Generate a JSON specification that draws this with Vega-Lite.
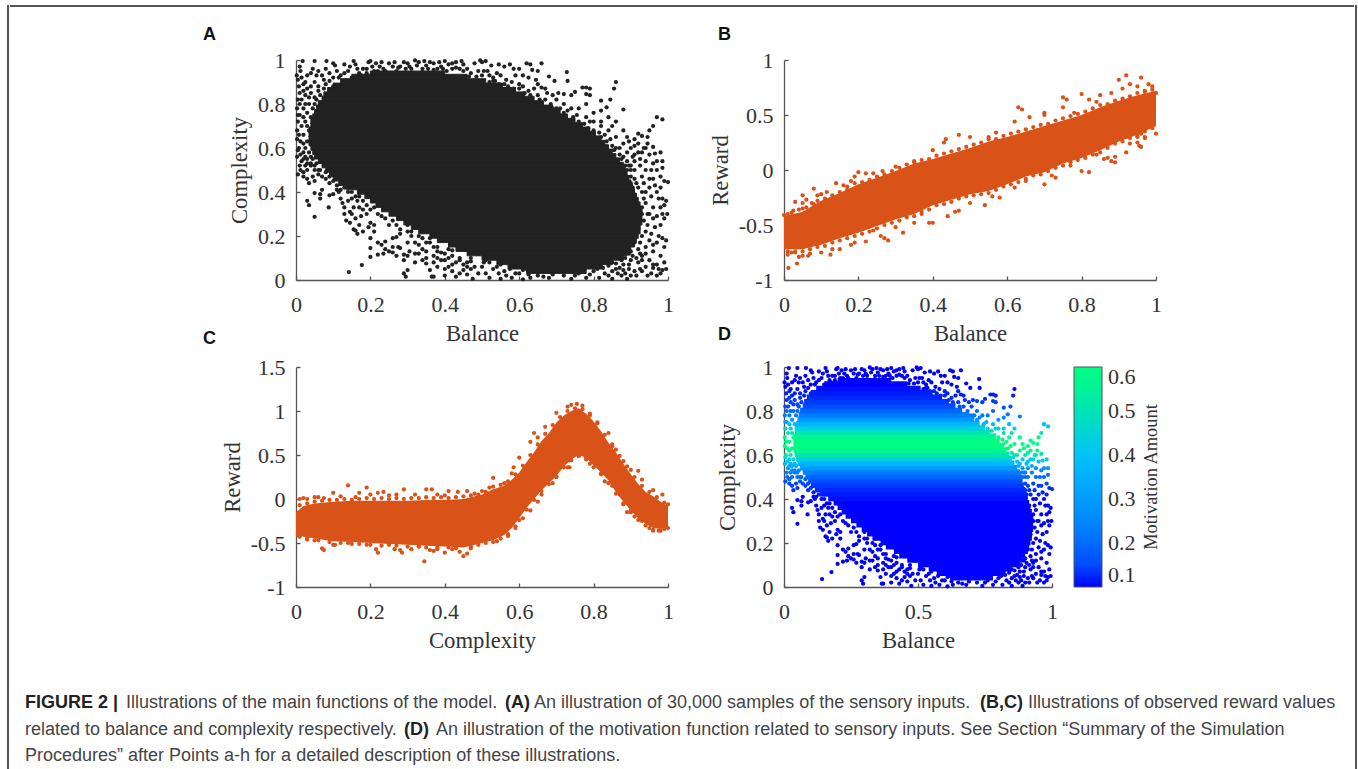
{
"$schema":"https://vega.github.io/schema/vega-lite/v6.json",
"padding":{"left":7,"top":4,"right":0,"bottom":0},
"background":"white",
"config":{"view":{"stroke":null},
 "axis":{"grid":false,"domainColor":"#555","tickColor":"#555","domainWidth":1.3,"tickWidth":1.3,"tickSize":-4,"labelFont":"Liberation Serif","titleFont":"Liberation Serif","labelFontSize":22,"titleFontSize":22.7,"labelColor":"#333","titleColor":"#333","titleFontWeight":"normal","labelOverlap":false,"labelBound":false,"labelFlush":false},
 "axisX":{"labelPadding":18,"titlePadding":7},
 "axisY":{"labelPadding":15,"titlePadding":6},
 "title":{"font":"Liberation Sans","fontSize":18,"fontWeight":"bold","color":"#111","anchor":"start","frame":"group"}},
"datasets":{
"frameLine":[{"a":0,"s":0,"e":1}],
"colorNote":[{"b":1.369,"c":0.5,"txt":"Motivation Amount"}],
"inputs":[
{"b":0.018,"c":0.995,"m":0.1},{"b":0.05,"c":0.995,"m":0.1},{"b":0.082,"c":0.995,"m":0.1},{"b":0.01,"c":0.97,"m":0.1},{"b":0.1,"c":0.985,"m":0.1},{"b":0.105,"c":0.975,"m":0.1},{"b":0.13,"c":0.98,"m":0.1},{"b":0.145,"c":0.97,"m":0.1},{"b":0.155,"c":0.995,"m":0.1},{"b":0.16,"c":0.98,"m":0.1},{"b":0.19,"c":0.96,"m":0.1},{"b":0.195,"c":0.99,"m":0.1},{"b":0.2,"c":0.995,"m":0.1},{"b":0.215,"c":0.985,"m":0.1},{"b":0.225,"c":0.97,"m":0.1},{"b":0.23,"c":0.99,"m":0.1},{"b":0.25,"c":0.985,"m":0.1},{"b":0.26,"c":0.97,"m":0.1},{"b":0.265,"c":0.99,"m":0.1},{"b":0.29,"c":0.99,"m":0.1},{"b":0.3,"c":0.985,"m":0.1},{"b":0.32,"c":0.998,"m":0.1},{"b":0.33,"c":0.99,"m":0.1},{"b":0.345,"c":0.995,"m":0.1},{"b":0.36,"c":0.99,"m":0.1},{"b":0.37,"c":0.985,"m":0.1},{"b":0.385,"c":0.99,"m":0.1},{"b":0.4,"c":0.995,"m":0.1},{"b":0.41,"c":0.98,"m":0.1},{"b":0.42,"c":0.985,"m":0.1},{"b":0.43,"c":0.99,"m":0.1},{"b":0.445,"c":0.995,"m":0.1},{"b":0.45,"c":0.98,"m":0.1},{"b":0.46,"c":0.96,"m":0.1},{"b":0.48,"c":0.985,"m":0.1},{"b":0.495,"c":0.998,"m":0.1},{"b":0.5,"c":0.99,"m":0.1},{"b":0.51,"c":0.995,"m":0.1},{"b":0.525,"c":0.975,"m":0.1},{"b":0.545,"c":0.98,"m":0.1},{"b":0.56,"c":0.97,"m":0.1},{"b":0.575,"c":0.98,"m":0.1},{"b":0.585,"c":0.96,"m":0.1},{"b":0.62,"c":0.985,"m":0.1},{"b":0.63,"c":0.98,"m":0.1},{"b":0.66,"c":0.985,"m":0.1},{"b":0.635,"c":0.955,"m":0.1},{"b":0.65,"c":0.95,"m":0.1},{"b":0.6,"c":0.96,"m":0.1},{"b":0.59,"c":0.93,"m":0.1},{"b":0.61,"c":0.93,"m":0.1},{"b":0.625,"c":0.92,"m":0.1},{"b":0.645,"c":0.91,"m":0.1},{"b":0.65,"c":0.89,"m":0.11},{"b":0.68,"c":0.925,"m":0.1},{"b":0.695,"c":0.905,"m":0.1},{"b":0.728,"c":0.945,"m":0.1},{"b":0.73,"c":0.905,"m":0.1},{"b":0.86,"c":0.9,"m":0.1},{"b":0.855,"c":0.87,"m":0.11},{"b":0.845,"c":0.82,"m":0.15},{"b":0.88,"c":0.775,"m":0.24},{"b":0.835,"c":0.785,"m":0.22},{"b":0.82,"c":0.815,"m":0.16},{"b":0.78,"c":0.875,"m":0.11},{"b":0.79,"c":0.87,"m":0.11},{"b":0.77,"c":0.875,"m":0.11},{"b":0.78,"c":0.845,"m":0.13},{"b":0.79,"c":0.84,"m":0.13},{"b":0.75,"c":0.855,"m":0.12},{"b":0.74,"c":0.84,"m":0.13},{"b":0.72,"c":0.845,"m":0.13},{"b":0.705,"c":0.85,"m":0.12},{"b":0.69,"c":0.84,"m":0.13},{"b":0.7,"c":0.82,"m":0.15},{"b":0.67,"c":0.87,"m":0.11},{"b":0.675,"c":0.85,"m":0.12},{"b":0.66,"c":0.875,"m":0.11},{"b":0.64,"c":0.87,"m":0.11},{"b":0.625,"c":0.86,"m":0.12},{"b":0.61,"c":0.88,"m":0.11},{"b":0.6,"c":0.89,"m":0.11},{"b":0.58,"c":0.9,"m":0.1},{"b":0.565,"c":0.91,"m":0.1},{"b":0.55,"c":0.93,"m":0.1},{"b":0.54,"c":0.94,"m":0.1},{"b":0.53,"c":0.92,"m":0.1},{"b":0.515,"c":0.95,"m":0.1},
{"b":0.03,"c":0.93,"m":0.1},{"b":0.04,"c":0.94,"m":0.1},{"b":0.06,"c":0.95,"m":0.1},{"b":0.07,"c":0.93,"m":0.1},{"b":0.08,"c":0.96,"m":0.1},{"b":0.09,"c":0.94,"m":0.1},{"b":0.11,"c":0.95,"m":0.1},{"b":0.12,"c":0.93,"m":0.1},{"b":0.14,"c":0.95,"m":0.1},{"b":0.17,"c":0.94,"m":0.1},{"b":0.18,"c":0.96,"m":0.1},{"b":0.21,"c":0.95,"m":0.1},{"b":0.24,"c":0.95,"m":0.1},{"b":0.27,"c":0.95,"m":0.1},{"b":0.28,"c":0.97,"m":0.1},{"b":0.31,"c":0.96,"m":0.1},{"b":0.34,"c":0.96,"m":0.1},{"b":0.35,"c":0.975,"m":0.1},{"b":0.38,"c":0.96,"m":0.1},{"b":0.39,"c":0.97,"m":0.1},{"b":0.42,"c":0.96,"m":0.1},{"b":0.44,"c":0.96,"m":0.1},{"b":0.47,"c":0.94,"m":0.1},{"b":0.49,"c":0.95,"m":0.1},{"b":0.5,"c":0.93,"m":0.1},{"b":0.52,"c":0.9,"m":0.1},{"b":0.56,"c":0.89,"m":0.11},
{"b":0.002,"c":0.93,"m":0.1},{"b":0.005,"c":0.91,"m":0.1},{"b":0.008,"c":0.88,"m":0.11},{"b":0.012,"c":0.95,"m":0.1},{"b":0.015,"c":0.92,"m":0.1},{"b":0.02,"c":0.89,"m":0.11},{"b":0.025,"c":0.9,"m":0.1},{"b":0.03,"c":0.87,"m":0.11},{"b":0.01,"c":0.85,"m":0.12},{"b":0.005,"c":0.82,"m":0.15},{"b":0.015,"c":0.82,"m":0.15},{"b":0.025,"c":0.84,"m":0.13},{"b":0.04,"c":0.88,"m":0.11},{"b":0.05,"c":0.9,"m":0.1},{"b":0.06,"c":0.88,"m":0.11},{"b":0.035,"c":0.8,"m":0.19},{"b":0.02,"c":0.78,"m":0.23},{"b":0.003,"c":0.78,"m":0.23},{"b":0.01,"c":0.75,"m":0.33},{"b":0.03,"c":0.76,"m":0.29},{"b":0.045,"c":0.78,"m":0.23},{"b":0.055,"c":0.82,"m":0.15},{"b":0.065,"c":0.84,"m":0.13},{"b":0.005,"c":0.72,"m":0.44},{"b":0.015,"c":0.7,"m":0.51},{"b":0.025,"c":0.72,"m":0.44},{"b":0.04,"c":0.74,"m":0.37},{"b":0.055,"c":0.72,"m":0.44},{"b":0.065,"c":0.76,"m":0.29},{"b":0.07,"c":0.7,"m":0.51},{"b":0.003,"c":0.68,"m":0.57},{"b":0.02,"c":0.66,"m":0.6},{"b":0.035,"c":0.68,"m":0.57},{"b":0.05,"c":0.66,"m":0.6},{"b":0.06,"c":0.68,"m":0.57},{"b":0.003,"c":0.64,"m":0.6},{"b":0.012,"c":0.63,"m":0.58},{"b":0.03,"c":0.63,"m":0.58},{"b":0.045,"c":0.62,"m":0.57},{"b":0.06,"c":0.62,"m":0.57},{"b":0.07,"c":0.64,"m":0.6},{"b":0.005,"c":0.59,"m":0.48},{"b":0.02,"c":0.58,"m":0.44},{"b":0.035,"c":0.58,"m":0.44},{"b":0.05,"c":0.6,"m":0.51},{"b":0.065,"c":0.58,"m":0.44},{"b":0.003,"c":0.56,"m":0.37},{"b":0.015,"c":0.54,"m":0.29},{"b":0.03,"c":0.55,"m":0.33},{"b":0.045,"c":0.55,"m":0.33},{"b":0.055,"c":0.53,"m":0.26},{"b":0.07,"c":0.55,"m":0.33},{"b":0.005,"c":0.48,"m":0.15},{"b":0.02,"c":0.49,"m":0.17},{"b":0.02,"c":0.47,"m":0.14},{"b":0.03,"c":0.46,"m":0.13},{"b":0.035,"c":0.44,"m":0.12},{"b":0.045,"c":0.47,"m":0.14},{"b":0.05,"c":0.45,"m":0.12},{"b":0.06,"c":0.48,"m":0.15},{"b":0.065,"c":0.5,"m":0.19},{"b":0.08,"c":0.49,"m":0.17},{"b":0.09,"c":0.47,"m":0.14},{"b":0.1,"c":0.45,"m":0.12},{"b":0.11,"c":0.43,"m":0.11},{"b":0.05,"c":0.395,"m":0.1},{"b":0.065,"c":0.39,"m":0.1},{"b":0.07,"c":0.41,"m":0.1},{"b":0.065,"c":0.37,"m":0.1},{"b":0.03,"c":0.36,"m":0.1},{"b":0.035,"c":0.34,"m":0.1},{"b":0.088,"c":0.33,"m":0.1},{"b":0.09,"c":0.385,"m":0.1},{"b":0.1,"c":0.39,"m":0.1},{"b":0.115,"c":0.4,"m":0.1},{"b":0.05,"c":0.287,"m":0.1},{"b":0.12,"c":0.37,"m":0.1},{"b":0.125,"c":0.35,"m":0.1},{"b":0.13,"c":0.33,"m":0.1},{"b":0.14,"c":0.36,"m":0.1},{"b":0.13,"c":0.42,"m":0.11},{"b":0.15,"c":0.4,"m":0.1},{"b":0.16,"c":0.38,"m":0.1},{"b":0.165,"c":0.36,"m":0.1},{"b":0.155,"c":0.33,"m":0.1},{"b":0.17,"c":0.33,"m":0.1},
{"b":0.13,"c":0.3,"m":0.1},{"b":0.135,"c":0.27,"m":0.1},{"b":0.145,"c":0.26,"m":0.1},{"b":0.155,"c":0.23,"m":0.1},{"b":0.16,"c":0.225,"m":0.1},{"b":0.165,"c":0.21,"m":0.1},{"b":0.18,"c":0.32,"m":0.1},{"b":0.175,"c":0.29,"m":0.1},{"b":0.19,"c":0.3,"m":0.1},{"b":0.2,"c":0.26,"m":0.1},{"b":0.195,"c":0.24,"m":0.1},{"b":0.21,"c":0.25,"m":0.1},{"b":0.21,"c":0.22,"m":0.1},{"b":0.2,"c":0.145,"m":0.1},{"b":0.2,"c":0.105,"m":0.1},{"b":0.22,"c":0.115,"m":0.1},{"b":0.23,"c":0.16,"m":0.1},{"b":0.235,"c":0.12,"m":0.1},{"b":0.24,"c":0.175,"m":0.1},{"b":0.25,"c":0.13,"m":0.1},{"b":0.26,"c":0.19,"m":0.1},{"b":0.26,"c":0.125,"m":0.1},{"b":0.27,"c":0.195,"m":0.1},{"b":0.275,"c":0.15,"m":0.1},{"b":0.28,"c":0.145,"m":0.1},{"b":0.28,"c":0.21,"m":0.1},{"b":0.29,"c":0.115,"m":0.1},{"b":0.3,"c":0.17,"m":0.1},{"b":0.305,"c":0.13,"m":0.1},{"b":0.31,"c":0.2,"m":0.1},{"b":0.31,"c":0.22,"m":0.1},{"b":0.32,"c":0.12,"m":0.1},{"b":0.33,"c":0.16,"m":0.1},{"b":0.34,"c":0.14,"m":0.1},{"b":0.34,"c":0.19,"m":0.1},{"b":0.35,"c":0.13,"m":0.1},{"b":0.36,"c":0.17,"m":0.1},{"b":0.37,"c":0.11,"m":0.1},{"b":0.38,"c":0.15,"m":0.1},{"b":0.39,"c":0.09,"m":0.1},{"b":0.39,"c":0.125,"m":0.1},{"b":0.4,"c":0.05,"m":0.1},{"b":0.37,"c":0.015,"m":0.1},{"b":0.365,"c":0.015,"m":0.1},{"b":0.36,"c":0.045,"m":0.1},{"b":0.41,"c":0.1,"m":0.1},{"b":0.42,"c":0.135,"m":0.1},{"b":0.43,"c":0.08,"m":0.1},{"b":0.43,"c":0.015,"m":0.1},{"b":0.44,"c":0.03,"m":0.1},{"b":0.45,"c":0.07,"m":0.1},{"b":0.46,"c":0.025,"m":0.1},{"b":0.47,"c":0.1,"m":0.1},{"b":0.48,"c":0.06,"m":0.1},{"b":0.475,"c":0.005,"m":0.1},{"b":0.49,"c":0.12,"m":0.1},{"b":0.5,"c":0.06,"m":0.1},{"b":0.51,"c":0.09,"m":0.1},{"b":0.52,"c":0.01,"m":0.1},{"b":0.53,"c":0.05,"m":0.1},{"b":0.54,"c":0.1,"m":0.1},{"b":0.55,"c":0.005,"m":0.1},{"b":0.56,"c":0.04,"m":0.1},{"b":0.57,"c":0.08,"m":0.1},{"b":0.58,"c":0.01,"m":0.1},{"b":0.59,"c":0.06,"m":0.1},{"b":0.6,"c":0.03,"m":0.1},{"b":0.61,"c":0.003,"m":0.1},{"b":0.62,"c":0.05,"m":0.1},{"b":0.63,"c":0.01,"m":0.1},{"b":0.64,"c":0.04,"m":0.1},{"b":0.65,"c":0.02,"m":0.1},{"b":0.67,"c":0.05,"m":0.1},{"b":0.68,"c":0.01,"m":0.1},{"b":0.7,"c":0.04,"m":0.1},{"b":0.72,"c":0.02,"m":0.1},{"b":0.735,"c":0.05,"m":0.1},{"b":0.74,"c":0.005,"m":0.1},{"b":0.76,"c":0.03,"m":0.1},{"b":0.78,"c":0.01,"m":0.1},{"b":0.8,"c":0.04,"m":0.1},{"b":0.815,"c":0.01,"m":0.1},{"b":0.83,"c":0.03,"m":0.1},{"b":0.85,"c":0.005,"m":0.1},{"b":0.86,"c":0.05,"m":0.1},{"b":0.875,"c":0.02,"m":0.1},{"b":0.89,"c":0.005,"m":0.1},{"b":0.29,"c":0.03,"m":0.1},{"b":0.295,"c":0.015,"m":0.1},{"b":0.3,"c":0.045,"m":0.1},{"b":0.142,"c":0.036,"m":0.1},{"b":0.177,"c":0.068,"m":0.1},{"b":0.52,"c":0.08,"m":0.1},{"b":0.55,"c":0.07,"m":0.1},{"b":0.6,"c":0.065,"m":0.1},
{"b":0.66,"c":0.07,"m":0.1},{"b":0.7,"c":0.065,"m":0.1},{"b":0.75,"c":0.06,"m":0.1},{"b":0.79,"c":0.06,"m":0.1},{"b":0.84,"c":0.065,"m":0.1},{"b":0.88,"c":0.045,"m":0.1},
{"b":0.985,"c":0.73,"m":0.4},{"b":0.97,"c":0.74,"m":0.37},{"b":0.96,"c":0.7,"m":0.51},{"b":0.95,"c":0.68,"m":0.57},{"b":0.92,"c":0.665,"m":0.6},{"b":0.93,"c":0.655,"m":0.6},{"b":0.945,"c":0.65,"m":0.6},{"b":0.91,"c":0.64,"m":0.6},{"b":0.92,"c":0.62,"m":0.57},{"b":0.945,"c":0.62,"m":0.57},{"b":0.96,"c":0.605,"m":0.52},{"b":0.965,"c":0.575,"m":0.42},{"b":0.98,"c":0.58,"m":0.44},{"b":0.97,"c":0.54,"m":0.29},{"b":0.985,"c":0.54,"m":0.29},{"b":0.94,"c":0.6,"m":0.51},{"b":0.95,"c":0.57,"m":0.4},{"b":0.93,"c":0.58,"m":0.44},{"b":0.9,"c":0.6,"m":0.51},{"b":0.91,"c":0.57,"m":0.4},{"b":0.925,"c":0.55,"m":0.33},{"b":0.94,"c":0.54,"m":0.29},{"b":0.955,"c":0.5,"m":0.19},{"b":0.97,"c":0.5,"m":0.19},{"b":0.985,"c":0.51,"m":0.21},{"b":0.99,"c":0.45,"m":0.12},{"b":1.0,"c":0.445,"m":0.12},{"b":0.995,"c":0.36,"m":0.1},{"b":0.99,"c":0.34,"m":0.1},{"b":0.998,"c":0.3,"m":0.1},{"b":0.98,"c":0.42,"m":0.11},{"b":0.965,"c":0.43,"m":0.11},{"b":0.95,"c":0.46,"m":0.13},{"b":0.93,"c":0.47,"m":0.14},{"b":0.91,"c":0.5,"m":0.19},{"b":0.92,"c":0.42,"m":0.11},{"b":0.94,"c":0.4,"m":0.1},{"b":0.955,"c":0.38,"m":0.1},{"b":0.975,"c":0.37,"m":0.1},{"b":0.985,"c":0.3,"m":0.1},{"b":0.97,"c":0.29,"m":0.1},{"b":0.95,"c":0.3,"m":0.1},{"b":0.93,"c":0.33,"m":0.1},{"b":0.915,"c":0.37,"m":0.1},{"b":0.9,"c":0.38,"m":0.1},{"b":0.905,"c":0.3,"m":0.1},{"b":0.925,"c":0.27,"m":0.1},{"b":0.945,"c":0.25,"m":0.1},{"b":0.965,"c":0.24,"m":0.1},{"b":0.98,"c":0.25,"m":0.1},{"b":0.995,"c":0.18,"m":0.1},{"b":0.99,"c":0.15,"m":0.1},{"b":0.97,"c":0.17,"m":0.1},{"b":0.95,"c":0.18,"m":0.1},{"b":0.93,"c":0.2,"m":0.1},{"b":0.91,"c":0.22,"m":0.1},{"b":0.9,"c":0.16,"m":0.1},{"b":0.92,"c":0.14,"m":0.1},{"b":0.94,"c":0.12,"m":0.1},{"b":0.96,"c":0.13,"m":0.1},{"b":0.98,"c":0.11,"m":0.1},{"b":0.995,"c":0.05,"m":0.1},{"b":0.985,"c":0.045,"m":0.1},{"b":0.97,"c":0.02,"m":0.1},{"b":0.955,"c":0.03,"m":0.1},{"b":0.975,"c":0.05,"m":0.1},{"b":0.94,"c":0.06,"m":0.1},{"b":0.92,"c":0.08,"m":0.1},{"b":0.9,"c":0.09,"m":0.1},{"b":0.91,"c":0.04,"m":0.1},{"b":0.895,"c":0.12,"m":0.1},{"b":0.88,"c":0.07,"m":0.1},{"b":0.87,"c":0.1,"m":0.1},{"b":0.86,"c":0.075,"m":0.1},
{"b":0.87,"c":0.6,"m":0.51},{"b":0.89,"c":0.58,"m":0.44},{"b":0.88,"c":0.62,"m":0.57},{"b":0.86,"c":0.65,"m":0.6},{"b":0.84,"c":0.68,"m":0.57},{"b":0.85,"c":0.7,"m":0.51},{"b":0.82,"c":0.72,"m":0.44},{"b":0.8,"c":0.76,"m":0.29},{"b":0.78,"c":0.74,"m":0.37},{"b":0.76,"c":0.78,"m":0.23},{"b":0.74,"c":0.78,"m":0.23},{"b":0.72,"c":0.8,"m":0.19},{"b":0.84,"c":0.74,"m":0.37},{"b":0.82,"c":0.77,"m":0.26},{"b":0.78,"c":0.8,"m":0.19},{"b":0.7,"c":0.78,"m":0.23},{"b":0.9,"c":0.52,"m":0.23},{"b":0.89,"c":0.5,"m":0.19},{"b":0.9,"c":0.44,"m":0.12},{"b":0.91,"c":0.46,"m":0.13},{"b":0.88,"c":0.68,"m":0.57},{"b":0.86,"c":0.72,"m":0.44},{"b":0.89,"c":0.65,"m":0.6},{"b":0.82,"c":0.7,"m":0.51},{"b":0.8,"c":0.72,"m":0.44},
{"b":0.115,"c":0.92,"m":0.1},{"b":0.13,"c":0.94,"m":0.1},{"b":0.15,"c":0.92,"m":0.1},{"b":0.165,"c":0.96,"m":0.1},{"b":0.175,"c":0.93,"m":0.1},{"b":0.19,"c":0.94,"m":0.1},{"b":0.205,"c":0.97,"m":0.1},{"b":0.22,"c":0.95,"m":0.1},{"b":0.235,"c":0.96,"m":0.1},{"b":0.255,"c":0.94,"m":0.1},{"b":0.275,"c":0.965,"m":0.1},{"b":0.295,"c":0.96,"m":0.1},{"b":0.305,"c":0.97,"m":0.1},{"b":0.325,"c":0.975,"m":0.1},{"b":0.34,"c":0.945,"m":0.1},{"b":0.355,"c":0.96,"m":0.1},{"b":0.37,"c":0.955,"m":0.1},{"b":0.395,"c":0.96,"m":0.1},{"b":0.405,"c":0.95,"m":0.1},{"b":0.43,"c":0.965,"m":0.1},{"b":0.45,"c":0.95,"m":0.1},{"b":0.465,"c":0.925,"m":0.1},{"b":0.485,"c":0.925,"m":0.1},{"b":0.505,"c":0.95,"m":0.1},{"b":0.52,"c":0.93,"m":0.1},{"b":0.535,"c":0.905,"m":0.1},{"b":0.045,"c":0.96,"m":0.1},{"b":0.055,"c":0.93,"m":0.1},{"b":0.075,"c":0.91,"m":0.1},{"b":0.09,"c":0.905,"m":0.1},{"b":0.1,"c":0.92,"m":0.1},{"b":0.08,"c":0.89,"m":0.11},{"b":0.1,"c":0.88,"m":0.11},{"b":0.095,"c":0.86,"m":0.12},{"b":0.075,"c":0.87,"m":0.11},{"b":0.06,"c":0.86,"m":0.12},{"b":0.04,"c":0.85,"m":0.12},{"b":0.05,"c":0.83,"m":0.14},{"b":0.035,"c":0.83,"m":0.14},{"b":0.02,"c":0.86,"m":0.12},{"b":0.01,"c":0.8,"m":0.19},{"b":0.025,"c":0.8,"m":0.19},{"b":0.05,"c":0.8,"m":0.19},{"b":0.005,"c":0.75,"m":0.33},{"b":0.02,"c":0.74,"m":0.37},{"b":0.03,"c":0.7,"m":0.51},{"b":0.008,"c":0.66,"m":0.6},{"b":0.02,"c":0.62,"m":0.57},{"b":0.008,"c":0.6,"m":0.51},{"b":0.025,"c":0.6,"m":0.51},{"b":0.012,"c":0.57,"m":0.4},{"b":0.025,"c":0.56,"m":0.37},{"b":0.04,"c":0.56,"m":0.37},{"b":0.01,"c":0.52,"m":0.23},{"b":0.025,"c":0.52,"m":0.23},{"b":0.04,"c":0.53,"m":0.26},{"b":0.012,"c":0.5,"m":0.19},{"b":0.03,"c":0.5,"m":0.19},{"b":0.05,"c":0.52,"m":0.23},
{"b":0.53,"c":0.905,"m":0.1},{"b":0.545,"c":0.89,"m":0.11},{"b":0.57,"c":0.88,"m":0.11},{"b":0.585,"c":0.87,"m":0.11},{"b":0.6,"c":0.87,"m":0.11},{"b":0.615,"c":0.85,"m":0.12},{"b":0.63,"c":0.84,"m":0.13},{"b":0.65,"c":0.84,"m":0.13},{"b":0.655,"c":0.82,"m":0.15},{"b":0.67,"c":0.82,"m":0.15},{"b":0.685,"c":0.8,"m":0.19},{"b":0.69,"c":0.78,"m":0.23},{"b":0.71,"c":0.78,"m":0.23},{"b":0.72,"c":0.76,"m":0.29},{"b":0.73,"c":0.77,"m":0.26},{"b":0.745,"c":0.74,"m":0.37},{"b":0.755,"c":0.75,"m":0.33},{"b":0.76,"c":0.72,"m":0.44},{"b":0.775,"c":0.71,"m":0.48},{"b":0.79,"c":0.72,"m":0.44},{"b":0.785,"c":0.69,"m":0.54},{"b":0.8,"c":0.68,"m":0.57},{"b":0.815,"c":0.67,"m":0.58},{"b":0.82,"c":0.65,"m":0.6},{"b":0.83,"c":0.66,"m":0.6},{"b":0.835,"c":0.63,"m":0.58},{"b":0.845,"c":0.64,"m":0.6},{"b":0.85,"c":0.61,"m":0.54},{"b":0.855,"c":0.59,"m":0.48},{"b":0.86,"c":0.6,"m":0.51},{"b":0.87,"c":0.57,"m":0.4},{"b":0.875,"c":0.55,"m":0.33},{"b":0.88,"c":0.56,"m":0.37},{"b":0.89,"c":0.54,"m":0.29},{"b":0.895,"c":0.52,"m":0.23},{"b":0.885,"c":0.52,"m":0.23},{"b":0.9,"c":0.5,"m":0.19},{"b":0.9,"c":0.47,"m":0.14},{"b":0.915,"c":0.44,"m":0.12},{"b":0.905,"c":0.42,"m":0.11},{"b":0.93,"c":0.4,"m":0.1},{"b":0.935,"c":0.37,"m":0.1},{"b":0.94,"c":0.35,"m":0.1},{"b":0.96,"c":0.33,"m":0.1},{"b":0.945,"c":0.3,"m":0.1},{"b":0.935,"c":0.27,"m":0.1},{"b":0.94,"c":0.22,"m":0.1},{"b":0.955,"c":0.21,"m":0.1},{"b":0.975,"c":0.2,"m":0.1},{"b":0.985,"c":0.19,"m":0.1},{"b":0.96,"c":0.16,"m":0.1},{"b":0.94,"c":0.15,"m":0.1},{"b":0.93,"c":0.11,"m":0.1},{"b":0.95,"c":0.09,"m":0.1},{"b":0.97,"c":0.07,"m":0.1},{"b":0.99,"c":0.08,"m":0.1},{"b":0.925,"c":0.17,"m":0.1},{"b":0.92,"c":0.24,"m":0.1},{"b":0.93,"c":0.3,"m":0.1},{"b":0.96,"c":0.28,"m":0.1},{"b":0.98,"c":0.33,"m":0.1},{"b":0.99,"c":0.28,"m":0.1},{"b":0.97,"c":0.4,"m":0.1},{"b":0.985,"c":0.37,"m":0.1},{"b":0.95,"c":0.42,"m":0.11},{"b":0.935,"c":0.44,"m":0.12},{"b":0.96,"c":0.46,"m":0.13},{"b":0.98,"c":0.47,"m":0.14},{"b":0.94,"c":0.5,"m":0.19},{"b":0.925,"c":0.52,"m":0.23},{"b":0.96,"c":0.53,"m":0.26},{"b":0.91,"c":0.54,"m":0.29},{"b":0.905,"c":0.56,"m":0.37},{"b":0.92,"c":0.58,"m":0.44},{"b":0.935,"c":0.6,"m":0.51},{"b":0.91,"c":0.61,"m":0.54},{"b":0.895,"c":0.63,"m":0.58},
{"b":0.46,"c":0.08,"m":0.1},{"b":0.44,"c":0.1,"m":0.1},{"b":0.47,"c":0.085,"m":0.1},{"b":0.42,"c":0.11,"m":0.1},{"b":0.4,"c":0.12,"m":0.1},{"b":0.41,"c":0.14,"m":0.1},{"b":0.38,"c":0.13,"m":0.1},{"b":0.37,"c":0.15,"m":0.1},{"b":0.35,"c":0.17,"m":0.1},{"b":0.36,"c":0.19,"m":0.1},{"b":0.33,"c":0.2,"m":0.1},{"b":0.32,"c":0.17,"m":0.1},{"b":0.34,"c":0.22,"m":0.1},{"b":0.3,"c":0.22,"m":0.1},{"b":0.3,"c":0.25,"m":0.1},{"b":0.28,"c":0.23,"m":0.1},{"b":0.27,"c":0.25,"m":0.1},{"b":0.26,"c":0.27,"m":0.1},{"b":0.25,"c":0.25,"m":0.1},{"b":0.24,"c":0.28,"m":0.1},{"b":0.23,"c":0.29,"m":0.1},{"b":0.22,"c":0.3,"m":0.1},{"b":0.21,"c":0.33,"m":0.1},{"b":0.2,"c":0.32,"m":0.1},{"b":0.19,"c":0.34,"m":0.1},{"b":0.18,"c":0.36,"m":0.1},{"b":0.17,"c":0.38,"m":0.1},{"b":0.15,"c":0.37,"m":0.1},{"b":0.14,"c":0.4,"m":0.1},{"b":0.12,"c":0.41,"m":0.1},{"b":0.11,"c":0.41,"m":0.1},{"b":0.09,"c":0.44,"m":0.12},{"b":0.08,"c":0.46,"m":0.13},{"b":0.06,"c":0.5,"m":0.19},{"b":0.07,"c":0.47,"m":0.14},{"b":0.04,"c":0.52,"m":0.23},{"b":0.03,"c":0.53,"m":0.26},{"b":0.05,"c":0.5,"m":0.19},{"b":0.02,"c":0.55,"m":0.33},
{"b":0.47,"c":0.05,"m":0.1},{"b":0.49,"c":0.03,"m":0.1},{"b":0.505,"c":0.08,"m":0.1},{"b":0.51,"c":0.03,"m":0.1},{"b":0.54,"c":0.06,"m":0.1},{"b":0.545,"c":0.03,"m":0.1},{"b":0.565,"c":0.02,"m":0.1},{"b":0.575,"c":0.05,"m":0.1},{"b":0.59,"c":0.03,"m":0.1},{"b":0.61,"c":0.045,"m":0.1},{"b":0.625,"c":0.025,"m":0.1},{"b":0.655,"c":0.04,"m":0.1},{"b":0.665,"c":0.015,"m":0.1},{"b":0.69,"c":0.025,"m":0.1},{"b":0.71,"c":0.055,"m":0.1},{"b":0.725,"c":0.04,"m":0.1},{"b":0.75,"c":0.02,"m":0.1},{"b":0.77,"c":0.05,"m":0.1},{"b":0.79,"c":0.025,"m":0.1},{"b":0.81,"c":0.05,"m":0.1},{"b":0.825,"c":0.055,"m":0.1},{"b":0.84,"c":0.02,"m":0.1},{"b":0.85,"c":0.04,"m":0.1},{"b":0.865,"c":0.03,"m":0.1},{"b":0.87,"c":0.055,"m":0.1},{"b":0.885,"c":0.03,"m":0.1},{"b":0.895,"c":0.05,"m":0.1},{"b":0.9,"c":0.02,"m":0.1},{"b":0.915,"c":0.02,"m":0.1},{"b":0.93,"c":0.04,"m":0.1},{"b":0.925,"c":0.05,"m":0.1},{"b":0.945,"c":0.02,"m":0.1},{"b":0.96,"c":0.055,"m":0.1},{"b":0.96,"c":0.07,"m":0.1},{"b":0.98,"c":0.03,"m":0.1},{"b":0.82,"c":0.07,"m":0.1},{"b":0.85,"c":0.08,"m":0.1},{"b":0.875,"c":0.09,"m":0.1},{"b":0.885,"c":0.1,"m":0.1},{"b":0.895,"c":0.07,"m":0.1},{"b":0.905,"c":0.11,"m":0.1},{"b":0.915,"c":0.1,"m":0.1},{"b":0.93,"c":0.09,"m":0.1},{"b":0.9,"c":0.13,"m":0.1},{"b":0.91,"c":0.17,"m":0.1},{"b":0.925,"c":0.12,"m":0.1},
{"b":0.33,"c":0.12,"m":0.1},{"b":0.35,"c":0.1,"m":0.1},{"b":0.37,"c":0.08,"m":0.1},{"b":0.38,"c":0.1,"m":0.1},{"b":0.4,"c":0.09,"m":0.1},{"b":0.42,"c":0.07,"m":0.1},{"b":0.44,"c":0.09,"m":0.1},{"b":0.46,"c":0.06,"m":0.1},{"b":0.35,"c":0.075,"m":0.1},{"b":0.32,"c":0.08,"m":0.1},{"b":0.29,"c":0.09,"m":0.1},{"b":0.27,"c":0.11,"m":0.1},{"b":0.24,"c":0.14,"m":0.1},{"b":0.22,"c":0.17,"m":0.1},{"b":0.2,"c":0.19,"m":0.1},{"b":0.18,"c":0.22,"m":0.1},{"b":0.17,"c":0.25,"m":0.1},{"b":0.16,"c":0.28,"m":0.1},{"b":0.145,"c":0.31,"m":0.1},{"b":0.15,"c":0.3,"m":0.1},{"b":0.26,"c":0.15,"m":0.1},{"b":0.3,"c":0.11,"m":0.1},{"b":0.34,"c":0.09,"m":0.1},{"b":0.4,"c":0.02,"m":0.1},{"b":0.42,"c":0.04,"m":0.1},{"b":0.45,"c":0.045,"m":0.1},{"b":0.41,"c":0.06,"m":0.1},{"b":0.38,"c":0.06,"m":0.1}
],
"core":[
{"c0":0.03,"c1":0.055,"b0":0.62,"b1":0.78,"m":0.1},{"c0":0.05,"c1":0.075,"b0":0.57,"b1":0.82,"m":0.1},{"c0":0.07,"c1":0.095,"b0":0.54,"b1":0.85,"m":0.1},{"c0":0.09,"c1":0.115,"b0":0.5,"b1":0.88,"m":0.1},{"c0":0.11,"c1":0.135,"b0":0.46,"b1":0.89,"m":0.1},{"c0":0.13,"c1":0.155,"b0":0.43,"b1":0.9,"m":0.1},{"c0":0.15,"c1":0.175,"b0":0.41,"b1":0.91,"m":0.1},{"c0":0.17,"c1":0.195,"b0":0.38,"b1":0.915,"m":0.1},{"c0":0.19,"c1":0.215,"b0":0.36,"b1":0.92,"m":0.1},{"c0":0.21,"c1":0.235,"b0":0.33,"b1":0.925,"m":0.1},{"c0":0.23,"c1":0.255,"b0":0.31,"b1":0.925,"m":0.1},{"c0":0.25,"c1":0.275,"b0":0.29,"b1":0.93,"m":0.1},{"c0":0.27,"c1":0.295,"b0":0.27,"b1":0.93,"m":0.1},{"c0":0.29,"c1":0.315,"b0":0.25,"b1":0.93,"m":0.1},{"c0":0.31,"c1":0.335,"b0":0.23,"b1":0.93,"m":0.1},{"c0":0.33,"c1":0.355,"b0":0.215,"b1":0.925,"m":0.1},{"c0":0.35,"c1":0.375,"b0":0.2,"b1":0.92,"m":0.1},{"c0":0.37,"c1":0.395,"b0":0.185,"b1":0.915,"m":0.1},{"c0":0.39,"c1":0.415,"b0":0.165,"b1":0.91,"m":0.103},{"c0":0.41,"c1":0.435,"b0":0.135,"b1":0.905,"m":0.108},{"c0":0.43,"c1":0.455,"b0":0.115,"b1":0.9,"m":0.116},{"c0":0.45,"c1":0.475,"b0":0.1,"b1":0.895,"m":0.13},{"c0":0.47,"c1":0.495,"b0":0.09,"b1":0.89,"m":0.152},{"c0":0.49,"c1":0.515,"b0":0.08,"b1":0.885,"m":0.186},{"c0":0.51,"c1":0.535,"b0":0.07,"b1":0.88,"m":0.233},{"c0":0.53,"c1":0.555,"b0":0.06,"b1":0.87,"m":0.294},{"c0":0.55,"c1":0.575,"b0":0.05,"b1":0.86,"m":0.366},{"c0":0.57,"c1":0.595,"b0":0.045,"b1":0.85,"m":0.441},{"c0":0.59,"c1":0.615,"b0":0.04,"b1":0.84,"m":0.511},{"c0":0.61,"c1":0.635,"b0":0.035,"b1":0.83,"m":0.566},{"c0":0.63,"c1":0.655,"b0":0.035,"b1":0.82,"m":0.596},{"c0":0.65,"c1":0.675,"b0":0.035,"b1":0.805,"m":0.596},{"c0":0.67,"c1":0.695,"b0":0.035,"b1":0.79,"m":0.566},{"c0":0.69,"c1":0.715,"b0":0.04,"b1":0.77,"m":0.511},{"c0":0.71,"c1":0.735,"b0":0.04,"b1":0.75,"m":0.441},{"c0":0.73,"c1":0.755,"b0":0.045,"b1":0.73,"m":0.366},{"c0":0.75,"c1":0.775,"b0":0.05,"b1":0.71,"m":0.294},{"c0":0.77,"c1":0.795,"b0":0.055,"b1":0.69,"m":0.233},{"c0":0.79,"c1":0.815,"b0":0.06,"b1":0.665,"m":0.186},{"c0":0.81,"c1":0.835,"b0":0.07,"b1":0.64,"m":0.152},{"c0":0.83,"c1":0.855,"b0":0.075,"b1":0.615,"m":0.13},{"c0":0.85,"c1":0.875,"b0":0.085,"b1":0.59,"m":0.116},{"c0":0.87,"c1":0.895,"b0":0.1,"b1":0.555,"m":0.108},{"c0":0.89,"c1":0.915,"b0":0.12,"b1":0.51,"m":0.104},{"c0":0.91,"c1":0.935,"b0":0.15,"b1":0.46,"m":0.1},{"c0":0.93,"c1":0.95,"b0":0.2,"b1":0.4,"m":0.1}
],
"bBand":[
{"b":0,"lo":-0.72,"hi":-0.42},{"b":0.05,"lo":-0.72,"hi":-0.38},{"b":0.1,"lo":-0.68,"hi":-0.28},{"b":0.15,"lo":-0.62,"hi":-0.21},{"b":0.2,"lo":-0.57,"hi":-0.13},{"b":0.25,"lo":-0.51,"hi":-0.07},{"b":0.3,"lo":-0.45,"hi":-0.01},{"b":0.35,"lo":-0.4,"hi":0.06},{"b":0.4,"lo":-0.32,"hi":0.1},{"b":0.45,"lo":-0.27,"hi":0.15},{"b":0.5,"lo":-0.22,"hi":0.2},{"b":0.55,"lo":-0.19,"hi":0.26},{"b":0.6,"lo":-0.13,"hi":0.3},{"b":0.65,"lo":-0.06,"hi":0.35},{"b":0.7,"lo":-0.02,"hi":0.4},{"b":0.75,"lo":0.06,"hi":0.45},{"b":0.8,"lo":0.11,"hi":0.5},{"b":0.85,"lo":0.18,"hi":0.57},{"b":0.9,"lo":0.26,"hi":0.63},{"b":0.95,"lo":0.32,"hi":0.68},{"b":1,"lo":0.4,"hi":0.72}
],
"bPoints":[
{"b":0.012,"r":-0.89},{"b":0.035,"r":-0.85},{"b":0.05,"r":-0.78},{"b":0.04,"r":-0.79},{"b":0.065,"r":-0.78},{"b":0.07,"r":-0.76},{"b":0.1,"r":-0.75},{"b":0.125,"r":-0.77},{"b":0.13,"r":-0.72},{"b":0.01,"r":-0.77},{"b":0.03,"r":-0.75},{"b":0.02,"r":-0.75},{"b":0.05,"r":-0.23},{"b":0.08,"r":-0.17},{"b":0.09,"r":-0.23},{"b":0.1,"r":-0.22},{"b":0.115,"r":-0.2},{"b":0.03,"r":-0.29},{"b":0.06,"r":-0.27},{"b":0.075,"r":-0.3},{"b":0.05,"r":-0.3},{"b":0.14,"r":-0.12},{"b":0.16,"r":-0.14},{"b":0.17,"r":-0.15},{"b":0.2,"r":-0.02},{"b":0.22,"r":-0.03},{"b":0.24,"r":-0.03},{"b":0.265,"r":-0.01},{"b":0.19,"r":-0.06},{"b":0.18,"r":-0.1},{"b":0.05,"r":-0.35},{"b":0.025,"r":-0.37},{"b":0.01,"r":-0.4},{"b":0.1,"r":-0.3},{"b":0.075,"r":-0.35},
{"b":0.435,"r":0.28},{"b":0.47,"r":0.32},{"b":0.55,"r":0.3},{"b":0.62,"r":0.44},{"b":0.63,"r":0.57},{"b":0.64,"r":0.55},{"b":0.7,"r":0.5},{"b":0.75,"r":0.57},{"b":0.76,"r":0.64},{"b":0.75,"r":0.66},{"b":0.8,"r":0.69},{"b":0.9,"r":0.82},{"b":0.92,"r":0.86},{"b":0.96,"r":0.84},{"b":0.98,"r":0.78},{"b":0.99,"r":0.76},{"b":0.93,"r":0.78},{"b":0.95,"r":0.76},{"b":0.91,"r":0.74},{"b":0.97,"r":0.72},{"b":0.88,"r":0.7},{"b":0.85,"r":0.68},{"b":0.82,"r":0.64},{"b":0.7,"r":0.52},{"b":0.43,"r":0.25},{"b":0.66,"r":0.48},{"b":0.5,"r":0.3},{"b":0.35,"r":0.08},{"b":0.4,"r":0.18},{"b":0.3,"r":0.03},{"b":0.57,"r":0.34},{"b":0.78,"r":0.52},{"b":0.84,"r":0.62},{"b":1.0,"r":0.7},
{"b":0.26,"r":-0.6},{"b":0.28,"r":-0.64},{"b":0.27,"r":-0.62},{"b":0.22,"r":-0.65},{"b":0.18,"r":-0.68},{"b":0.15,"r":-0.72},{"b":0.19,"r":-0.66},{"b":0.32,"r":-0.57},{"b":0.3,"r":-0.52},{"b":0.35,"r":-0.48},{"b":0.39,"r":-0.48},{"b":0.4,"r":-0.48},{"b":0.44,"r":-0.42},{"b":0.46,"r":-0.38},{"b":0.47,"r":-0.37},{"b":0.5,"r":-0.3},{"b":0.54,"r":-0.32},{"b":0.58,"r":-0.25},{"b":0.56,"r":-0.24},{"b":0.7,"r":-0.13},{"b":0.72,"r":-0.05},{"b":0.73,"r":-0.07},{"b":0.8,"r":-0.01},{"b":0.82,"r":-0.02},{"b":0.86,"r":0.1},{"b":0.87,"r":0.11},{"b":0.88,"r":0.08},{"b":0.89,"r":0.07},{"b":0.89,"r":0.12},{"b":0.92,"r":0.16},{"b":0.93,"r":0.24},{"b":0.96,"r":0.21},{"b":0.95,"r":0.25},{"b":0.955,"r":0.22},{"b":0.97,"r":0.29},{"b":0.95,"r":0.3},{"b":0.97,"r":0.3},{"b":1.0,"r":0.33},{"b":0.99,"r":0.42},{"b":0.96,"r":0.33},{"b":0.92,"r":0.3},{"b":0.65,"r":-0.1},{"b":0.62,"r":-0.16},{"b":0.77,"r":0.04},{"b":0.84,"r":0.14},{"b":0.37,"r":-0.4},{"b":0.24,"r":-0.55},
{"b":0,"r":-0.41},{"b":0.02,"r":-0.39},{"b":0.04,"r":-0.36},{"b":0.06,"r":-0.34},{"b":0.08,"r":-0.31},{"b":0.09,"r":-0.28},{"b":0.11,"r":-0.26},{"b":0.13,"r":-0.23},{"b":0.15,"r":-0.2},{"b":0.17,"r":-0.18},{"b":0.19,"r":-0.12},{"b":0.21,"r":-0.11},{"b":0.23,"r":-0.09},{"b":0.25,"r":-0.06},{"b":0.27,"r":-0.04},{"b":0.29,"r":-0.01},{"b":0.31,"r":0.02},{"b":0.33,"r":0.05},{"b":0.35,"r":0.07},{"b":0.37,"r":0.09},{"b":0.39,"r":0.1},{"b":0.41,"r":0.13},{"b":0.43,"r":0.15},{"b":0.45,"r":0.17},{"b":0.47,"r":0.19},{"b":0.49,"r":0.21},{"b":0.51,"r":0.23},{"b":0.53,"r":0.25},{"b":0.55,"r":0.28},{"b":0.57,"r":0.28},{"b":0.59,"r":0.31},{"b":0.61,"r":0.33},{"b":0.63,"r":0.35},{"b":0.65,"r":0.37},{"b":0.67,"r":0.39},{"b":0.69,"r":0.41},{"b":0.71,"r":0.42},{"b":0.73,"r":0.45},{"b":0.75,"r":0.47},{"b":0.77,"r":0.49},{"b":0.79,"r":0.51},{"b":0.81,"r":0.53},{"b":0.83,"r":0.56},{"b":0.85,"r":0.59},{"b":0.87,"r":0.6},{"b":0.89,"r":0.63},{"b":0.91,"r":0.65},{"b":0.93,"r":0.67},{"b":0.95,"r":0.7},{"b":0.97,"r":0.71},{"b":0.99,"r":0.73},
{"b":0.01,"r":-0.74},{"b":0.03,"r":-0.74},{"b":0.05,"r":-0.74},{"b":0.07,"r":-0.72},{"b":0.09,"r":-0.7},{"b":0.11,"r":-0.69},{"b":0.13,"r":-0.66},{"b":0.15,"r":-0.64},{"b":0.17,"r":-0.62},{"b":0.19,"r":-0.6},{"b":0.21,"r":-0.58},{"b":0.23,"r":-0.56},{"b":0.25,"r":-0.53},{"b":0.27,"r":-0.5},{"b":0.29,"r":-0.48},{"b":0.31,"r":-0.46},{"b":0.33,"r":-0.43},{"b":0.35,"r":-0.42},{"b":0.37,"r":-0.38},{"b":0.39,"r":-0.36},{"b":0.41,"r":-0.32},{"b":0.43,"r":-0.31},{"b":0.45,"r":-0.29},{"b":0.47,"r":-0.26},{"b":0.49,"r":-0.24},{"b":0.51,"r":-0.23},{"b":0.53,"r":-0.22},{"b":0.55,"r":-0.21},{"b":0.57,"r":-0.18},{"b":0.59,"r":-0.15},{"b":0.61,"r":-0.13},{"b":0.63,"r":-0.11},{"b":0.65,"r":-0.08},{"b":0.67,"r":-0.05},{"b":0.69,"r":-0.04},{"b":0.71,"r":-0.01},{"b":0.73,"r":0.02},{"b":0.75,"r":0.04},{"b":0.77,"r":0.07},{"b":0.79,"r":0.09},{"b":0.81,"r":0.11},{"b":0.83,"r":0.14},{"b":0.85,"r":0.16},{"b":0.87,"r":0.2},{"b":0.89,"r":0.24},{"b":0.91,"r":0.26},{"b":0.93,"r":0.29},{"b":0.95,"r":0.31},{"b":0.97,"r":0.35},{"b":0.99,"r":0.38}
],
"cBand":[
{"c":0,"lo":-0.4,"hi":-0.15},{"c":0.02,"lo":-0.43,"hi":-0.08},{"c":0.05,"lo":-0.45,"hi":-0.05},{"c":0.1,"lo":-0.48,"hi":-0.03},{"c":0.15,"lo":-0.49,"hi":-0.02},{"c":0.2,"lo":-0.5,"hi":-0.02},{"c":0.25,"lo":-0.51,"hi":-0.02},{"c":0.3,"lo":-0.52,"hi":-0.02},{"c":0.35,"lo":-0.53,"hi":-0.01},{"c":0.4,"lo":-0.54,"hi":-0.01},{"c":0.45,"lo":-0.55,"hi":0},{"c":0.5,"lo":-0.5,"hi":0.05},{"c":0.53,"lo":-0.47,"hi":0.11},{"c":0.56,"lo":-0.41,"hi":0.15},{"c":0.58,"lo":-0.33,"hi":0.22},{"c":0.6,"lo":-0.22,"hi":0.3},{"c":0.62,"lo":-0.1,"hi":0.42},{"c":0.64,"lo":0,"hi":0.53},{"c":0.66,"lo":0.1,"hi":0.66},{"c":0.68,"lo":0.18,"hi":0.75},{"c":0.7,"lo":0.26,"hi":0.87},{"c":0.72,"lo":0.37,"hi":0.95},{"c":0.74,"lo":0.45,"hi":1},{"c":0.76,"lo":0.5,"hi":1.03},{"c":0.78,"lo":0.47,"hi":0.97},{"c":0.8,"lo":0.38,"hi":0.88},{"c":0.82,"lo":0.3,"hi":0.77},{"c":0.84,"lo":0.21,"hi":0.64},{"c":0.86,"lo":0.08,"hi":0.53},{"c":0.88,"lo":-0.03,"hi":0.4},{"c":0.9,"lo":-0.13,"hi":0.28},{"c":0.92,"lo":-0.22,"hi":0.17},{"c":0.94,"lo":-0.28,"hi":0.08},{"c":0.96,"lo":-0.33,"hi":0.03},{"c":0.98,"lo":-0.34,"hi":-0.03},{"c":1,"lo":-0.33,"hi":-0.08}
],
"cPoints":[
{"c":0.345,"r":-0.71},{"c":0.14,"r":0.155},{"c":0.19,"r":0.13},{"c":0.1,"r":0.07},{"c":0.17,"r":0.07},{"c":0.2,"r":0.05},{"c":0.22,"r":0.07},{"c":0.235,"r":0.08},{"c":0.29,"r":0.11},{"c":0.35,"r":0.11},{"c":0.365,"r":0.11},{"c":0.41,"r":0.09},{"c":0.435,"r":0.08},{"c":0.46,"r":0.09},{"c":0.01,"r":0},{"c":0.02,"r":0.01},{"c":0.03,"r":0},{"c":0.05,"r":0.02},{"c":0.06,"r":0.02},{"c":0.075,"r":0.01},{"c":0.12,"r":0.03},{"c":0.16,"r":0.02},{"c":0.25,"r":0.04},{"c":0.27,"r":0.05},{"c":0.32,"r":0.05},{"c":0.38,"r":0.05},{"c":0.4,"r":0.04},{"c":0.48,"r":0.06},{"c":0.5,"r":0.09},{"c":0.53,"r":0.24},{"c":0.52,"r":0.13},{"c":0.56,"r":0.18},{"c":0.58,"r":0.29},{"c":0.6,"r":0.47},{"c":0.585,"r":0.36},{"c":0.64,"r":0.75},{"c":0.65,"r":0.7},{"c":0.63,"r":0.65},{"c":0.67,"r":0.82},{"c":0.7,"r":0.98},{"c":0.73,"r":1.05},{"c":0.74,"r":1.07},{"c":0.755,"r":1.08},{"c":0.77,"r":1.06},{"c":0.79,"r":0.97},{"c":0.81,"r":0.87},{"c":0.84,"r":0.75},{"c":0.85,"r":0.6},{"c":0.86,"r":0.56},{"c":0.88,"r":0.43},{"c":0.9,"r":0.33},{"c":0.92,"r":0.32},{"c":0.93,"r":0.22},{"c":0.96,"r":0.1},{"c":0.985,"r":0.05},{"c":1,"r":-0.06},
{"c":0.07,"r":-0.56},{"c":0.075,"r":-0.58},{"c":0.1,"r":-0.52},{"c":0.105,"r":-0.52},{"c":0.215,"r":-0.57},{"c":0.22,"r":-0.61},{"c":0.265,"r":-0.57},{"c":0.28,"r":-0.58},{"c":0.285,"r":-0.61},{"c":0.31,"r":-0.57},{"c":0.36,"r":-0.58},{"c":0.37,"r":-0.59},{"c":0.38,"r":-0.57},{"c":0.4,"r":-0.61},{"c":0.42,"r":-0.57},{"c":0.44,"r":-0.6},{"c":0.45,"r":-0.65},{"c":0.46,"r":-0.62},{"c":0.47,"r":-0.56},{"c":0.03,"r":-0.46},{"c":0.05,"r":-0.47},{"c":0.15,"r":-0.51},{"c":0.2,"r":-0.52},{"c":0.33,"r":-0.54},{"c":0.54,"r":-0.48},{"c":0.57,"r":-0.42},{"c":0.59,"r":-0.33},{"c":0.61,"r":-0.22},{"c":0.63,"r":-0.13},{"c":0.65,"r":-0.03},{"c":0.66,"r":0.05},{"c":0.69,"r":0.18},{"c":0.7,"r":0.25},{"c":0.73,"r":0.36},{"c":0.735,"r":0.44},{"c":0.735,"r":0.36},{"c":0.76,"r":0.49},{"c":0.78,"r":0.47},{"c":0.79,"r":0.4},{"c":0.82,"r":0.28},{"c":0.83,"r":0.2},{"c":0.85,"r":0.15},{"c":0.87,"r":0.05},{"c":0.88,"r":-0.06},{"c":0.89,"r":-0.15},{"c":0.9,"r":-0.13},{"c":0.91,"r":-0.2},{"c":0.93,"r":-0.25},{"c":0.95,"r":-0.33},{"c":0.96,"r":-0.36},{"c":0.975,"r":-0.36},{"c":0.99,"r":-0.34},{"c":1,"r":-0.33},{"c":0.005,"r":-0.41},
{"c":0.01,"r":-0.07},{"c":0.03,"r":-0.05},{"c":0.05,"r":-0.03},{"c":0.07,"r":-0.02},{"c":0.09,"r":-0.01},{"c":0.11,"r":-0.01},{"c":0.13,"r":0},{"c":0.15,"r":-0.01},{"c":0.17,"r":0},{"c":0.19,"r":0.01},{"c":0.21,"r":0},{"c":0.23,"r":0.01},{"c":0.25,"r":0},{"c":0.27,"r":0.01},{"c":0.29,"r":0},{"c":0.31,"r":0.01},{"c":0.33,"r":0.01},{"c":0.35,"r":0.02},{"c":0.37,"r":0.01},{"c":0.39,"r":0.02},{"c":0.41,"r":0.01},{"c":0.43,"r":0.02},{"c":0.45,"r":0.03},{"c":0.47,"r":0.04},{"c":0.49,"r":0.05},{"c":0.51,"r":0.08},{"c":0.53,"r":0.14},{"c":0.55,"r":0.16},{"c":0.57,"r":0.2},{"c":0.59,"r":0.28},{"c":0.61,"r":0.38},{"c":0.63,"r":0.5},{"c":0.65,"r":0.62},{"c":0.67,"r":0.74},{"c":0.69,"r":0.84},{"c":0.71,"r":0.93},{"c":0.73,"r":1},{"c":0.75,"r":1.03},{"c":0.77,"r":1.02},{"c":0.79,"r":0.95},{"c":0.81,"r":0.86},{"c":0.83,"r":0.73},{"c":0.85,"r":0.62},{"c":0.87,"r":0.49},{"c":0.89,"r":0.37},{"c":0.91,"r":0.25},{"c":0.93,"r":0.15},{"c":0.95,"r":0.08},{"c":0.97,"r":0.02},{"c":0.99,"r":-0.04},
{"c":0.01,"r":-0.43},{"c":0.03,"r":-0.45},{"c":0.06,"r":-0.47},{"c":0.09,"r":-0.49},{"c":0.12,"r":-0.5},{"c":0.14,"r":-0.5},{"c":0.17,"r":-0.51},{"c":0.19,"r":-0.52},{"c":0.23,"r":-0.53},{"c":0.25,"r":-0.52},{"c":0.27,"r":-0.53},{"c":0.3,"r":-0.54},{"c":0.33,"r":-0.54},{"c":0.35,"r":-0.55},{"c":0.38,"r":-0.55},{"c":0.41,"r":-0.55},{"c":0.43,"r":-0.56},{"c":0.47,"r":-0.54},{"c":0.49,"r":-0.52},{"c":0.51,"r":-0.5},{"c":0.53,"r":-0.49},{"c":0.55,"r":-0.45},{"c":0.57,"r":-0.4},{"c":0.59,"r":-0.31},{"c":0.6,"r":-0.24},{"c":0.62,"r":-0.12},{"c":0.64,"r":-0.01},{"c":0.66,"r":0.09},{"c":0.68,"r":0.17},{"c":0.7,"r":0.25},{"c":0.72,"r":0.36},{"c":0.74,"r":0.44},{"c":0.76,"r":0.49},{"c":0.78,"r":0.45},{"c":0.8,"r":0.36},{"c":0.82,"r":0.29},{"c":0.84,"r":0.18},{"c":0.86,"r":0.06},{"c":0.88,"r":-0.05},{"c":0.9,"r":-0.15},{"c":0.92,"r":-0.24},{"c":0.94,"r":-0.3},{"c":0.96,"r":-0.35},{"c":0.98,"r":-0.36}
],
"captionRegular":[
{"row":1,"pos":116,"txt":"Illustrations of the main functions of the model."},
{"row":1,"pos":524,"txt":"An illustration of 30,000 samples of the sensory inputs."},
{"row":1,"pos":1018,"txt":"Illustrations of observed reward values"},
{"row":2,"pos":15,"txt":"related to balance and complexity respectively."},
{"row":2,"pos":426,"txt":"An illustration of the motivation function related to sensory inputs. See Section “Summary of the Simulation"},
{"row":3,"pos":15,"txt":"Procedures” after Points a-h for a detailed description of these illustrations."}
],
"captionBold":[
{"row":1,"pos":15,"txt":"FIGURE 2 |"},
{"row":1,"pos":495,"txt":"(A)"},
{"row":1,"pos":970,"txt":"(B,C)"},
{"row":2,"pos":394,"txt":"(D)"}
]
},
"resolve":{"scale":{"color":"independent"},"legend":{"color":"independent"}},
"hconcat":[
 {"width":1,"height":765,"data":{"name":"frameLine"},"mark":{"type":"rule","color":"#555","strokeWidth":2},
  "encoding":{"x":{"field":"a","type":"quantitative","scale":{"domain":[0,1]},"axis":null},"y":{"field":"s","type":"quantitative","scale":{"domain":[0,1]},"axis":null},"y2":{"field":"e"}}},
 {"resolve":{"scale":{"color":"independent"},"legend":{"color":"independent"}},
  "vconcat":[
  {"width":1344,"height":1,"data":{"name":"frameLine"},"mark":{"type":"rule","color":"#555","strokeWidth":2},
   "encoding":{"y":{"field":"a","type":"quantitative","scale":{"domain":[0,1]},"axis":null},"x":{"field":"s","type":"quantitative","scale":{"domain":[0,1]},"axis":null},"x2":{"field":"e"}}},
  {"resolve":{"scale":{"color":"independent"},"legend":{"color":"independent"}},
   "vconcat":[
   {"hconcat":[
    {"width":158,"height":220,"data":{"values":[]},"mark":"point","encoding":{}},
    {"width":372,"height":220,"title":{"text":"A","dx":-93,"offset":5},
     "layer":[
      {"data":{"name":"core"},"mark":{"type":"rect","color":"#222","stroke":"#222","strokeWidth":1},
       "encoding":{"x":{"field":"b0","type":"quantitative","scale":{"domain":[0,1]},"axis":{"title":"Balance","values":[0,0.2,0.4,0.6,0.8,1],"labelExpr":"''+datum.value"}},"x2":{"field":"b1"},
        "y":{"field":"c0","type":"quantitative","scale":{"domain":[0,1]},"axis":{"title":"Complexity","values":[0,0.2,0.4,0.6,0.8,1],"labelExpr":"''+datum.value"}},"y2":{"field":"c1"}}},
      {"data":{"name":"inputs"},"mark":{"type":"circle","color":"#222","size":18,"opacity":1},
       "encoding":{"x":{"field":"b","type":"quantitative"},"y":{"field":"c","type":"quantitative"}}}
     ]},
    {"width":372,"height":220,"title":{"text":"B","dx":-66,"offset":5},
     "layer":[
      {"data":{"name":"bBand"},"mark":{"type":"area","color":"#d95319"},
       "encoding":{"x":{"field":"b","type":"quantitative","scale":{"domain":[0,1]},"axis":{"title":"Balance","values":[0,0.2,0.4,0.6,0.8,1],"labelExpr":"''+datum.value"}},
        "y":{"field":"lo","type":"quantitative","scale":{"domain":[-1,1]},"axis":{"title":"Reward","values":[-1,-0.5,0,0.5,1],"labelExpr":"''+datum.value"}},"y2":{"field":"hi"}}},
      {"data":{"name":"bPoints"},"mark":{"type":"circle","color":"#d95319","size":18,"opacity":1},
       "encoding":{"x":{"field":"b","type":"quantitative"},"y":{"field":"r","type":"quantitative"}}}
     ]}
   ],"spacing":35},
   {"resolve":{"scale":{"color":"independent"},"legend":{"color":"independent"}},
    "hconcat":[
    {"width":151,"height":220,"data":{"values":[]},"mark":"point","encoding":{}},
    {"width":372,"height":220,"title":{"text":"C","dx":-93,"offset":8.5},
     "layer":[
      {"data":{"name":"cBand"},"mark":{"type":"area","color":"#d95319"},
       "encoding":{"x":{"field":"c","type":"quantitative","scale":{"domain":[0,1]},"axis":{"title":"Complexity","values":[0,0.2,0.4,0.6,0.8,1],"labelExpr":"''+datum.value"}},
        "y":{"field":"lo","type":"quantitative","scale":{"domain":[-1,1.5],"nice":false},"axis":{"title":"Reward","values":[-1,-0.5,0,0.5,1,1.5],"labelExpr":"''+datum.value"}},"y2":{"field":"hi"}}},
      {"data":{"name":"cPoints"},"mark":{"type":"circle","color":"#d95319","size":18,"opacity":1},
       "encoding":{"x":{"field":"c","type":"quantitative"},"y":{"field":"r","type":"quantitative"}}}
     ]},
    {"width":268,"height":220,"title":{"text":"D","dx":-66,"offset":12.5},
     "layer":[
      {"data":{"name":"core"},"mark":{"type":"rect"},
       "encoding":{"x":{"field":"b0","type":"quantitative","scale":{"domain":[0,1]},"axis":{"title":"Balance","values":[0,0.5,1],"labelExpr":"''+datum.value"}},"x2":{"field":"b1"},
        "y":{"field":"c0","type":"quantitative","scale":{"domain":[0,1]},"axis":{"title":"Complexity","values":[0,0.2,0.4,0.6,0.8,1],"labelExpr":"''+datum.value"}},"y2":{"field":"c1"},
        "color":{"field":"m","type":"quantitative","scale":{"domain":[0.1,0.6],"range":["#0000ff","#00ff80"]},
         "legend":{"title":null,"orient":"none","legendX":290,"legendY":0,"padding":0,"gradientLength":220,"gradientThickness":28,"gradientStrokeColor":"#555","gradientStrokeWidth":1,"tickCount":6,"labelFont":"Liberation Serif","labelFontSize":22,"labelColor":"#333","labelOffset":6,"labelOverlap":false,"encoding":{"labels":{"update":{"baseline":{"value":"middle"}}}}}}}},
      {"data":{"name":"inputs"},"mark":{"type":"circle","size":18,"opacity":1},
       "encoding":{"x":{"field":"b","type":"quantitative"},"y":{"field":"c","type":"quantitative"},"color":{"field":"m","type":"quantitative","legend":null}}},
      {"data":{"name":"colorNote"},"mark":{"type":"text","angle":270,"align":"center","baseline":"middle","font":"Liberation Serif","fontSize":18.4,"color":"#333"},
       "encoding":{"x":{"field":"b","type":"quantitative"},"y":{"field":"c","type":"quantitative"},"text":{"field":"txt"}}}
     ]}
   ],"spacing":42},
   {"width":1344,"height":130,
    "layer":[
     {"data":{"name":"captionRegular"},"mark":{"type":"text","align":"left","baseline":"middle","font":"Liberation Sans","fontSize":18,"color":"#444"},
      "encoding":{"x":{"field":"pos","type":"quantitative","scale":{"domain":[0,1344],"nice":false},"axis":null},"y":{"field":"row","type":"quantitative","scale":{"domain":[3.981,-0.925],"nice":false},"axis":null},"text":{"field":"txt"}}},
     {"data":{"name":"captionBold"},"mark":{"type":"text","align":"left","baseline":"middle","font":"Liberation Sans","fontSize":18,"fontWeight":"bold","color":"#222"},
      "encoding":{"x":{"field":"pos","type":"quantitative"},"y":{"field":"row","type":"quantitative"},"text":{"field":"txt"}}}
    ]}
  ],"spacing":-20}
 ],"spacing":19},
 {"width":1,"height":765,"data":{"name":"frameLine"},"mark":{"type":"rule","color":"#555","strokeWidth":2},
  "encoding":{"x":{"field":"a","type":"quantitative","scale":{"domain":[0,1]},"axis":null},"y":{"field":"s","type":"quantitative","scale":{"domain":[0,1]},"axis":null},"y2":{"field":"e"}}}
],"spacing":0
}
